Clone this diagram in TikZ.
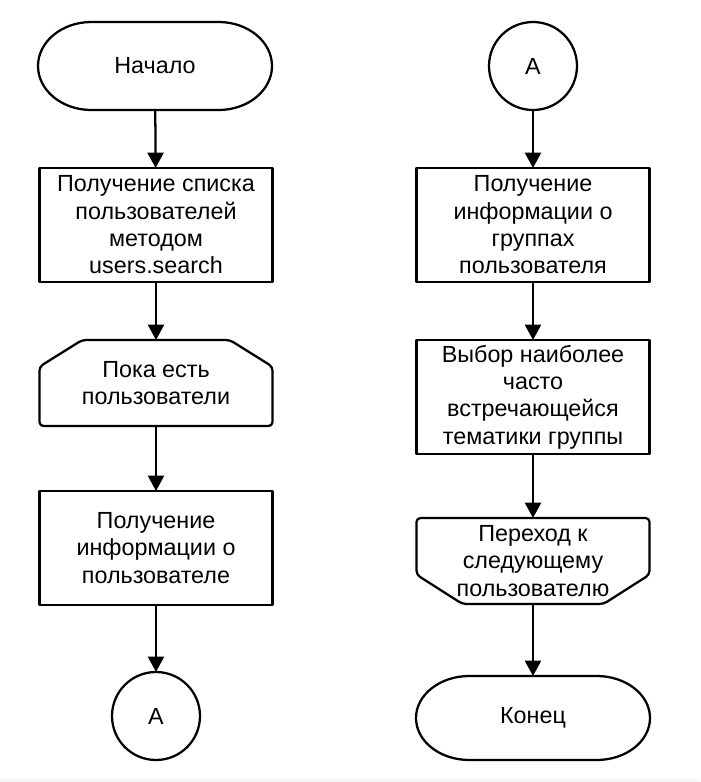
\documentclass[tikz,border=0pt]{standalone}
\usepackage{fontspec}
\setmainfont{Liberation Sans}
\usetikzlibrary{arrows.meta,calc}

% outline of a terminator: flat top and bottom, elliptical ends
\newcommand\drawterm[3]{%
  \draw[outline] ([xshift=#2]#1.north west) -- ([xshift=-#2]#1.north east)
    arc[start angle=90, end angle=-90, x radius=#2, y radius=#3]
    -- ([xshift=#2]#1.south west)
    arc[start angle=270, end angle=90, x radius=#2, y radius=#3] -- cycle;}

\begin{document}
\begin{tikzpicture}[x=0.75pt,y=0.75pt,
  every node/.style={font=\fontsize{17.5pt}{20.5pt}\selectfont, align=center,
    inner sep=0pt, outer sep=0pt},
  outline/.style={line width=1.7pt, draw=black, line join=round},
  proc/.style={outline, rectangle, minimum width=174.75pt, minimum height=85.5pt},
  loopbox/.style={rectangle, minimum width=174.75pt, minimum height=64.5pt},
  term/.style={rectangle, minimum width=175.5pt},
  conn/.style={outline, circle, minimum size=66pt},
  flow/.style={line width=1.7pt, -{Triangle[length=11.5pt,width=12pt]}}
]
\useasboundingbox (0,0) rectangle (700,-782);
\fill[black!3] (0,-779) rectangle (700,-782);

% left column
\node[term, minimum height=66pt] (start) at (155,-66) {Начало};
\drawterm{start}{40pt}{33pt}
\node[proc] (users) at (156,-225) {Получение списка\\пользователей\\методом\\users.search};
\node[loopbox] (loop) at (156,-383) {Пока есть\\пользователи};
\draw[outline, rounded corners=3pt]
  ([xshift=32pt]loop.north west) -- ([xshift=-32pt]loop.north east)
  -- ([yshift=-20pt]loop.north east) -- (loop.south east) -- (loop.south west)
  -- ([yshift=-20pt]loop.north west) -- cycle;
\node[proc] (uinfo) at (156,-548) {Получение\\информации о\\пользователе};
\node[conn] (outA) at (156,-716) {A};

% right column
\node[conn] (inA) at (533,-66) {A};
\node[proc] (groups) at (533,-225) {Получение\\информации о\\группах\\пользователя};
\node[proc] (topic) at (533,-397) {Выбор наиболее\\часто\\встречающейся\\тематики группы};
\node[loopbox] (next) at (533,-561) {Переход к\\следующему\\пользователю};
\draw[outline, rounded corners=3pt]
  ([yshift=22pt]next.south west) -- (next.north west) -- (next.north east)
  -- ([yshift=22pt]next.south east) -- ([xshift=-34.5pt]next.south east)
  -- ([xshift=34.5pt]next.south west) -- cycle;
\node[term, minimum height=63pt] (stop) at (533,-718) {Конец};
\drawterm{stop}{40pt}{31.5pt}

% connectors
\draw[flow] (start) -- (users);
\draw[flow] (users) -- (loop);
\draw[flow] (loop) -- (uinfo);
\draw[flow] (uinfo) -- (outA);
\draw[flow] (inA) -- (groups);
\draw[flow] (groups) -- (topic);
\draw[flow] (topic) -- (next);
\draw[flow] (next) -- (stop);
\end{tikzpicture}
\end{document}
